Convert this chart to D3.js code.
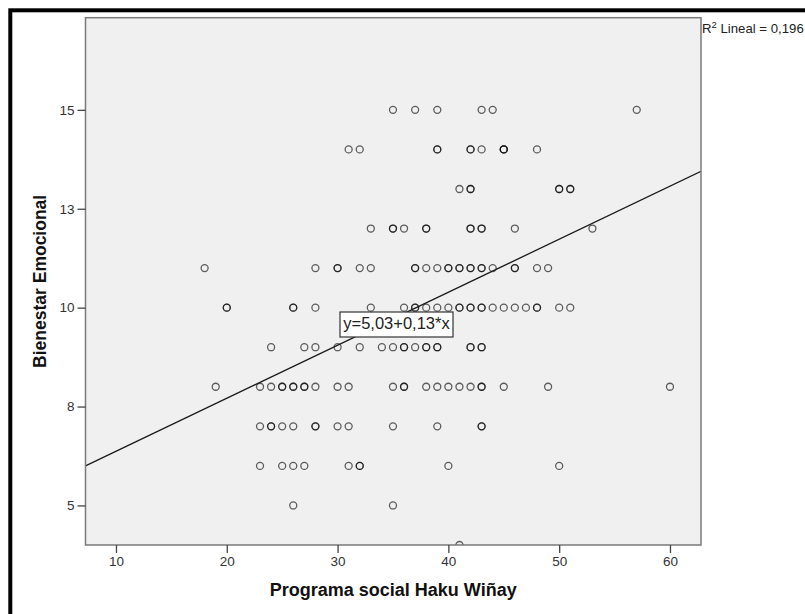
<!DOCTYPE html>
<html>
<head>
<meta charset="utf-8">
<script src="https://cdn.jsdelivr.net/npm/d3@7"></script>
<style>
  html, body { margin: 0; padding: 0; background: #fff; }
  svg { display: block; }
  text { font-family: "Liberation Sans", Arial, sans-serif; }
</style>
</head>
<body>
<svg id="chart" width="805" height="614"></svg>
<script>
// ---- Data ----
// x values (Programa social Haku Wiñay) of the points on each Bienestar Emocional level
const level15 = [35, 37, 39, 43, 44, 57];
const level14 = [31, 32, 39, 39, 42, 42, 43, 45, 45, 45, 48];
const level13 = [41, 42, 42, 50, 50, 51, 51];
const level12 = [33, 35, 35, 36, 38, 38, 42, 42, 43, 43, 46, 53];
const level11 = [18, 28, 30, 30, 32, 33, 37, 37, 38, 39, 40, 40, 41, 41, 42, 42, 43, 43, 44, 46, 46, 48, 49];
const level10 = [20, 20, 26, 26, 28, 33, 36, 37, 37, 38, 39, 40, 41, 41, 42, 42, 43, 43, 44, 45, 46, 47, 48, 48, 50, 51];
const level9  = [24, 27, 28, 30, 32, 34, 35, 36, 36, 37, 38, 38, 39, 39, 42, 42, 43, 43];
const level8  = [19, 23, 24, 25, 25, 26, 26, 27, 27, 28, 30, 31, 35, 36, 36, 38, 39, 40, 41, 42, 43, 43, 45, 49, 60];
const level7  = [23, 24, 24, 25, 26, 28, 28, 30, 31, 35, 39, 43, 43];
const level6  = [23, 25, 26, 27, 31, 32, 32, 40, 50];
const level5  = [26, 35];
const level4  = [41];

const levelValues = [15, 14, 13, 12, 11, 10, 9, 8, 7, 6, 5, 4];
const levelPoints = [level15, level14, level13, level12, level11, level10, level9, level8, level7, level6, level5, level4];

// Axes
const xTickValues = [10, 20, 30, 40, 50, 60];
const yTickValues = [5, 7.5, 10, 12.5, 15];
const yTickLabels = ["5", "8", "10", "13", "15"];
const xDomain = [7.25, 62.8];
const yDomain = [4, 17.33];

// Fit line
const intercept = 5.03;
const slope = 0.134;
const equationText = "y=5,03+0,13*x";
const r2Text = " Lineal = 0,196";

const xTitle = "Programa social Haku Wiñay";
const yTitle = "Bienestar Emocional";

// ---- Drawing ----
const svg = d3.select("#chart");
const plot = { left: 85.5, top: 17.7, right: 701, bottom: 545 };

const x = d3.scaleLinear().domain(xDomain).range([plot.left, plot.right]);
const y = d3.scaleLinear().domain(yDomain).range([plot.bottom, plot.top]);

// outer black frame (continues beyond the picture on the right and bottom)
svg.append("rect")
  .attr("x", 10.3).attr("y", 10.3)
  .attr("width", 900).attr("height", 800)
  .attr("fill", "none").attr("stroke", "#000").attr("stroke-width", 4);

// plot background
svg.append("rect")
  .attr("x", plot.left).attr("y", plot.top)
  .attr("width", plot.right - plot.left).attr("height", plot.bottom - plot.top)
  .attr("fill", "#f0f0f0");

svg.append("defs").append("clipPath").attr("id", "clip")
  .append("rect")
  .attr("x", plot.left).attr("y", plot.top)
  .attr("width", plot.right - plot.left).attr("height", plot.bottom - plot.top);

// points
const points = [];
levelValues.forEach((lv, i) => levelPoints[i].forEach(xv => points.push({ x: xv, y: lv })));

svg.append("g").attr("clip-path", "url(#clip)")
  .selectAll("circle").data(points).enter().append("circle")
  .attr("cx", d => x(d.x)).attr("cy", d => y(d.y))
  .attr("r", 3.5)
  .attr("fill", "none")
  .attr("stroke", "#000")
  .attr("stroke-opacity", 0.62)
  .attr("stroke-width", 1.3);

// regression line
svg.append("g").attr("clip-path", "url(#clip)")
  .append("line")
  .attr("x1", x(xDomain[0])).attr("y1", y(intercept + slope * xDomain[0]))
  .attr("x2", x(xDomain[1])).attr("y2", y(intercept + slope * xDomain[1]))
  .attr("stroke", "#1a1a1a").attr("stroke-width", 1.3);

// plot frame
svg.append("rect")
  .attr("x", plot.left).attr("y", plot.top)
  .attr("width", plot.right - plot.left).attr("height", plot.bottom - plot.top)
  .attr("fill", "none").attr("stroke", "#7a7a7a").attr("stroke-width", 1.5);

// axes
const xAxis = d3.axisBottom(x).tickValues(xTickValues).tickSize(8).tickPadding(3).tickFormat(d3.format("d"));
const yAxis = d3.axisLeft(y).tickValues(yTickValues).tickSize(8).tickPadding(3)
  .tickFormat((d, i) => yTickLabels[i]);

const gx = svg.append("g").attr("transform", `translate(0,${plot.bottom})`).call(xAxis);
const gy = svg.append("g").attr("transform", `translate(${plot.left},0)`).call(yAxis);
[gx, gy].forEach(g => {
  g.select(".domain").remove();
  g.selectAll(".tick line").attr("stroke", "#444").attr("stroke-width", 1.3);
  g.selectAll(".tick text").attr("fill", "#333").attr("font-size", 13.5)
    .attr("font-family", "'Liberation Sans', Arial, sans-serif");
});

// axis titles
svg.append("text")
  .attr("x", (plot.left + plot.right) / 2).attr("y", 596)
  .attr("text-anchor", "middle")
  .attr("font-weight", "bold").attr("font-size", 18).attr("fill", "#111")
  .text(xTitle);

svg.append("text")
  .attr("transform", `translate(46,${(plot.top + plot.bottom) / 2}) rotate(-90)`)
  .attr("text-anchor", "middle")
  .attr("font-weight", "bold").attr("font-size", 17.5).attr("fill", "#111")
  .text(yTitle);

// equation label
const eq = svg.append("g");
eq.append("rect")
  .attr("x", 340).attr("y", 312).attr("width", 113).attr("height", 25)
  .attr("fill", "#fff").attr("stroke", "#333").attr("stroke-width", 1.2);
eq.append("text")
  .attr("x", 396.5).attr("y", 329)
  .attr("text-anchor", "middle")
  .attr("font-size", 16.5).attr("fill", "#222")
  .text(equationText);

// R² label
const r2 = svg.append("text").attr("x", 702).attr("y", 33.3)
  .attr("font-size", 13.2).attr("fill", "#222");
r2.append("tspan").text("R");
r2.append("tspan").attr("font-size", 9.5).attr("dy", -5).text("2");
r2.append("tspan").attr("dy", 5).text(r2Text);
</script>
</body>
</html>
